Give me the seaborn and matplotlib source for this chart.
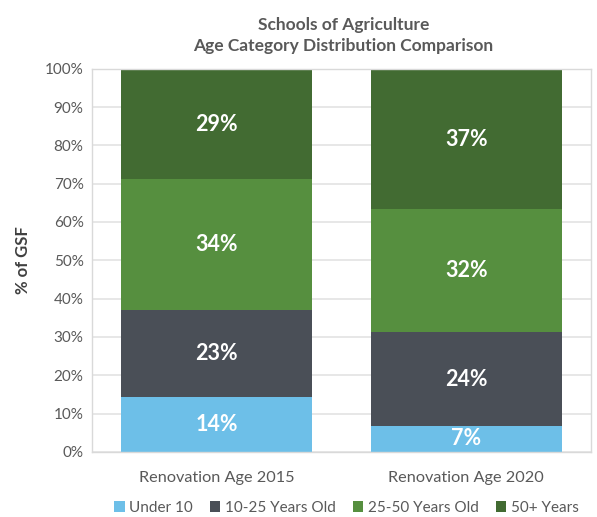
import matplotlib
matplotlib.use("Agg")
import matplotlib.pyplot as plt
import seaborn as sns
import pandas as pd
import numpy as np
from matplotlib.ticker import PercentFormatter
from matplotlib.patches import Patch

categories = ["Renovation Age 2015", "Renovation Age 2020"]
series = ["Under 10", "10-25 Years Old", "25-50 Years Old", "50+ Years"]
under10 = [14.3, 6.8]
y10_25 = [22.7, 24.4]
y25_50 = [34.1, 32.1]
y50plus = [28.9, 36.7]
colors = ["#6DBFE8", "#4A4F57", "#568F3F", "#426B32"]

values = [under10, y10_25, y25_50, y50plus]

sns.set_theme(style="white")
plt.rcParams['font.family'] = ['Lato', 'DejaVu Sans']

fig = plt.figure(figsize=(5.97, 5.17), dpi=100)
ax = fig.add_axes([0.154, 0.126, 0.836, 0.741])

bottom = np.zeros(len(categories))
for name, vals, col in zip(series, values, colors):
    df = pd.DataFrame({"cat": categories, "val": vals})
    sns.barplot(data=df, x="cat", y="val", color=col, ax=ax, width=0.767,
                bottom=bottom, saturation=1, edgecolor="none", linewidth=0)
    for i, v in enumerate(vals):
        ax.text(i, bottom[i] + v / 2, f"{round(v):d}%", ha="center", va="center",
                color="white", fontsize=15.5, fontweight="bold")
    bottom = bottom + np.array(vals)

ax.set_ylim(0, 100)
ax.set_xlim(-0.5, 1.5)
ax.set_yticks(np.arange(0, 101, 10))
ax.yaxis.set_major_formatter(PercentFormatter(decimals=0))
ax.grid(axis="y", color="#E3E3E3", linewidth=1.2)
ax.set_axisbelow(True)
for s in ax.spines.values():
    s.set_visible(True)
    s.set_color("#D9D9D9")
    s.set_linewidth(1)
ax.tick_params(axis="both", length=0, labelsize=11, colors="#595959", pad=6)
ax.tick_params(axis="x", pad=14, labelsize=11.7)
ax.set_xlabel("")
ax.set_ylabel("% of GSF", fontsize=12, fontweight="bold", color="#404040", labelpad=10)

fig.text(0.575, 0.968, "Schools of Agriculture\nAge Category Distribution Comparison",
         ha="center", va="top", fontsize=12.5, fontweight="bold", color="#595959",
         linespacing=1.4)

handles = [Patch(facecolor=c, edgecolor="none") for c in colors]
fig.legend(handles, series, loc="center", bbox_to_anchor=(0.58, 0.018),
           ncol=4, frameon=False, fontsize=11, handlelength=0.7, handleheight=0.7,
           handletextpad=0.3, columnspacing=1.1, labelcolor="#595959")

fig.savefig("out.png", dpi=100)
